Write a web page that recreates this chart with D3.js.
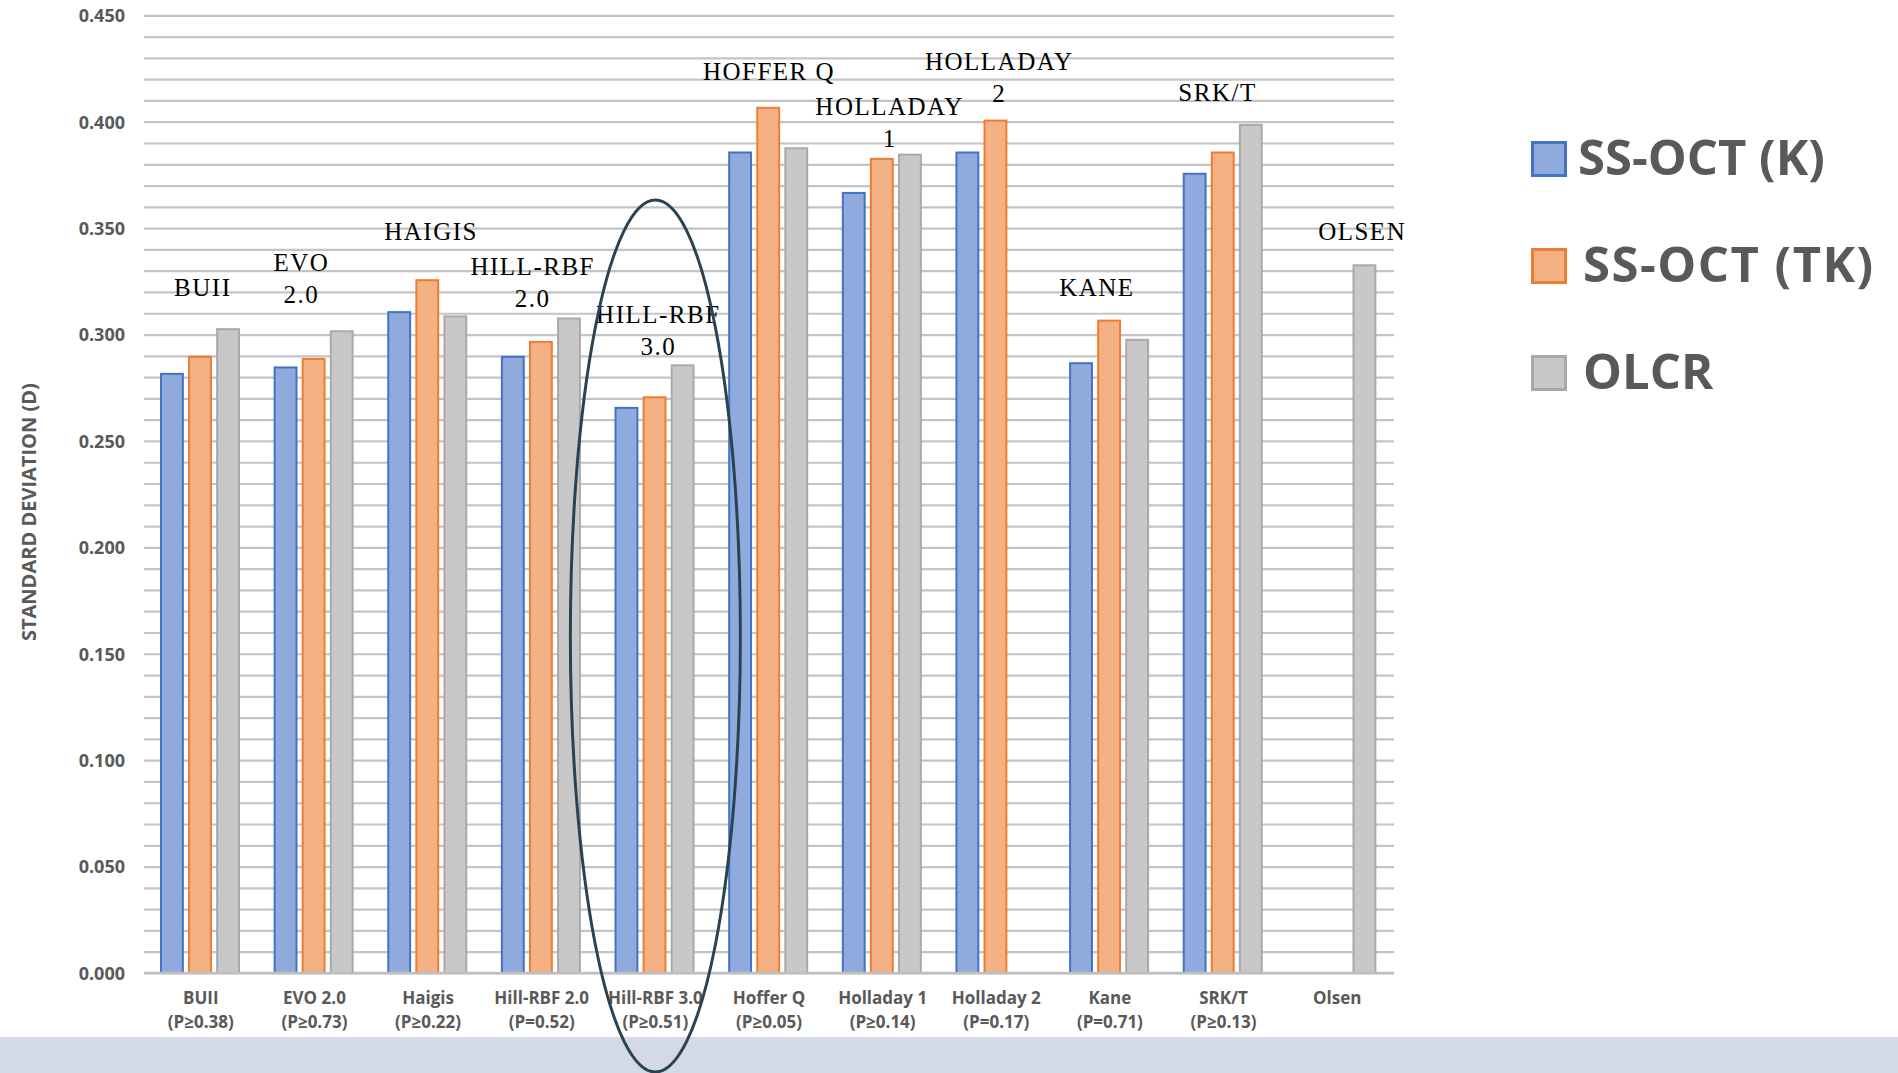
<!DOCTYPE html>
<html>
<head>
<meta charset="utf-8">
<script src="https://cdn.jsdelivr.net/npm/d3@7"></script>
<style>
  body { margin: 0; background: #fff; }
  svg { display: block; }
</style>
</head>
<body>
<div id="chart"></div>
<script>
// grouped bars, SD of prediction error per formula

const categories = ["BUII", "EVO 2.0", "Haigis", "Hill-RBF 2.0", "Hill-RBF 3.0", "Hoffer Q",
    "Holladay 1", "Holladay 2", "Kane", "SRK/T", "Olsen"];
const pValues = ["(P≥0.38)", "(P≥0.73)", "(P≥0.22)", "(P=0.52)", "(P≥0.51)", "(P≥0.05)",
    "(P≥0.14)", "(P=0.17)", "(P=0.71)", "(P≥0.13)", ""];
const series = ["SS-OCT (K)", "SS-OCT (TK)", "OLCR"];

const ssoctK  = [0.282, 0.285, 0.311, 0.290, 0.266, 0.386, 0.367, 0.386, 0.287, 0.376, null];
const ssoctTK = [0.290, 0.289, 0.326, 0.297, 0.271, 0.407, 0.383, 0.401, 0.307, 0.386, null];
const olcr    = [0.303, 0.302, 0.309, 0.308, 0.286, 0.388, 0.385, null, 0.298, 0.399, 0.333];

const yTicks = [0, 0.05, 0.1, 0.15, 0.2, 0.25, 0.3, 0.35, 0.4, 0.45];

// annotation text above each group, level = baseline of first line (in D)
const annoLines = [["BUII"], ["EVO", "2.0"], ["HAIGIS"], ["HILL-RBF", "2.0"], ["HILL-RBF", "3.0"],
    ["HOFFER Q"], ["HOLLADAY", "1"], ["HOLLADAY", "2"], ["KANE"], ["SRK/T"], ["OLSEN"]];
const annoLevel = [0.318, 0.330, 0.3445, 0.328, 0.3053, 0.4196, 0.4031, 0.4243, 0.318, 0.4098, 0.3445];
const annoDx = [2, -13, 3, -9, 3, 0, 7, 3, -13, -6, 25];

const highlight = "Hill-RBF 3.0";
const highlightTop = 0.3632;

const fills   = ["#8FAADC", "#F4B183", "#C8C8C8"];
const strokes = ["#4472C4", "#ED7D31", "#A9A9A9"];

const W = 1898, H = 1073;
const svg = d3.select("#chart").append("svg").attr("width", W).attr("height", H)
    .style("font-family", "'Open Sans', sans-serif");

// bottom strip
svg.append("rect").attr("x", 0).attr("y", 1037).attr("width", W).attr("height", H - 1037)
    .attr("fill", "#D3D9E6");

const pLeft = 144, pRight = 1394, pTop = 15.3, pBottom = 973;

const y = d3.scaleLinear().domain([0, 0.45]).range([pBottom, pTop]);
const x0 = d3.scaleBand().domain(categories).range([pLeft, pRight]);
const x1 = d3.scaleBand().domain(series).range([16, 96]).paddingInner(0.15);

// grid every 0.01
const grid = svg.append("g").attr("transform", `translate(${pLeft},0)`)
    .call(d3.axisLeft(y).tickValues(d3.range(0, 0.4501, 0.01)).tickSize(-(pRight - pLeft)).tickFormat(""));
grid.select(".domain").remove();
grid.selectAll("line").attr("stroke", "#C4C4C4").attr("stroke-width", 2.2);

// y labels
const ya = svg.append("g").attr("transform", `translate(${pLeft - 16},0)`)
    .call(d3.axisLeft(y).tickValues(yTicks).tickSize(0).tickFormat(d3.format(".3f")));
ya.select(".domain").remove();
ya.selectAll("text").attr("font-family", "'Open Sans', sans-serif").attr("font-size", 18)
    .attr("font-weight", 700).attr("fill", "#595959").attr("dy", "0.35em");

svg.append("text")
    .attr("transform", `translate(28,${(pTop + pBottom) / 2 + 18}) rotate(-90)`)
    .attr("text-anchor", "middle").attr("dominant-baseline", "central")
    .attr("font-size", 20).attr("font-weight", 700).attr("fill", "#595959")
    .text("STANDARD DEVIATION (D)");

// bars
const rows = categories.map((c, i) => ({ c, vals: [ssoctK[i], ssoctTK[i], olcr[i]] }));

const groups = svg.append("g").selectAll("g").data(rows).enter().append("g")
    .attr("transform", d => `translate(${x0(d.c)},0)`);

groups.selectAll("rect")
    .data(d => d.vals.map((v, j) => ({ v, s: series[j], j })).filter(e => e.v != null))
    .enter().append("rect")
    .attr("x", e => x1(e.s) + 1)
    .attr("y", e => y(e.v) + 1)
    .attr("width", x1.bandwidth() - 2)
    .attr("height", e => pBottom - y(e.v) - 1)
    .attr("fill", e => fills[e.j])
    .attr("stroke", e => strokes[e.j])
    .attr("stroke-width", 2);

// x axis line
svg.append("line").attr("x1", pLeft).attr("x2", pRight).attr("y1", pBottom).attr("y2", pBottom)
    .attr("stroke", "#BFBFBF").attr("stroke-width", 2.5);

// category labels
const xl = svg.append("g").selectAll("text").data(categories).enter().append("text")
    .attr("x", d => x0(d) + x0.bandwidth() / 2)
    .attr("y", 1004)
    .attr("text-anchor", "middle")
    .attr("font-size", 17).attr("font-weight", 700).attr("fill", "#595959");
xl.append("tspan").text(d => d);
xl.append("tspan").attr("x", d => x0(d) + x0.bandwidth() / 2).attr("dy", 24)
    .text((d, i) => pValues[i]);

// serif annotations
const an = svg.append("g").selectAll("text").data(categories).enter().append("text")
    .attr("text-anchor", "middle")
    .attr("font-family", "'Liberation Serif', 'Times New Roman', serif")
    .attr("font-size", 25).attr("letter-spacing", 1.5).attr("fill", "#000");
an.each(function (d, i) {
    const cx = x0(d) + x0.bandwidth() / 2 + annoDx[i];
    annoLines[i].forEach((t, k) => {
        d3.select(this).append("tspan").attr("x", cx).attr("y", y(annoLevel[i]) + k * 32).text(t);
    });
});

// highlight ellipse round Hill-RBF 3.0
const eTop = y(highlightTop), eBot = 1072;
svg.append("ellipse")
    .attr("cx", x0(highlight) + x0.bandwidth() / 2)
    .attr("cy", (eTop + eBot) / 2)
    .attr("rx", 85)
    .attr("ry", (eBot - eTop) / 2)
    .attr("fill", "none").attr("stroke", "#2B4252").attr("stroke-width", 3);

// legend
const lg = svg.append("g").selectAll("g").data(series).enter().append("g")
    .attr("transform", (d, i) => `translate(1531,${141 + i * 107})`);
lg.append("rect").attr("x", 1.5).attr("y", 1.5).attr("width", 33).attr("height", 33)
    .attr("fill", (d, i) => fills[i]).attr("stroke", (d, i) => strokes[i]).attr("stroke-width", 3);
lg.append("text").attr("x", (d, i) => i ? 52 : 47).attr("y", 34)
    .attr("font-size", 49).attr("font-weight", 700).attr("fill", "#595959")
    .attr("letter-spacing", (d, i) => i === 1 ? 1.5 : 0)
    .text(d => d);
</script>
</body>
</html>
